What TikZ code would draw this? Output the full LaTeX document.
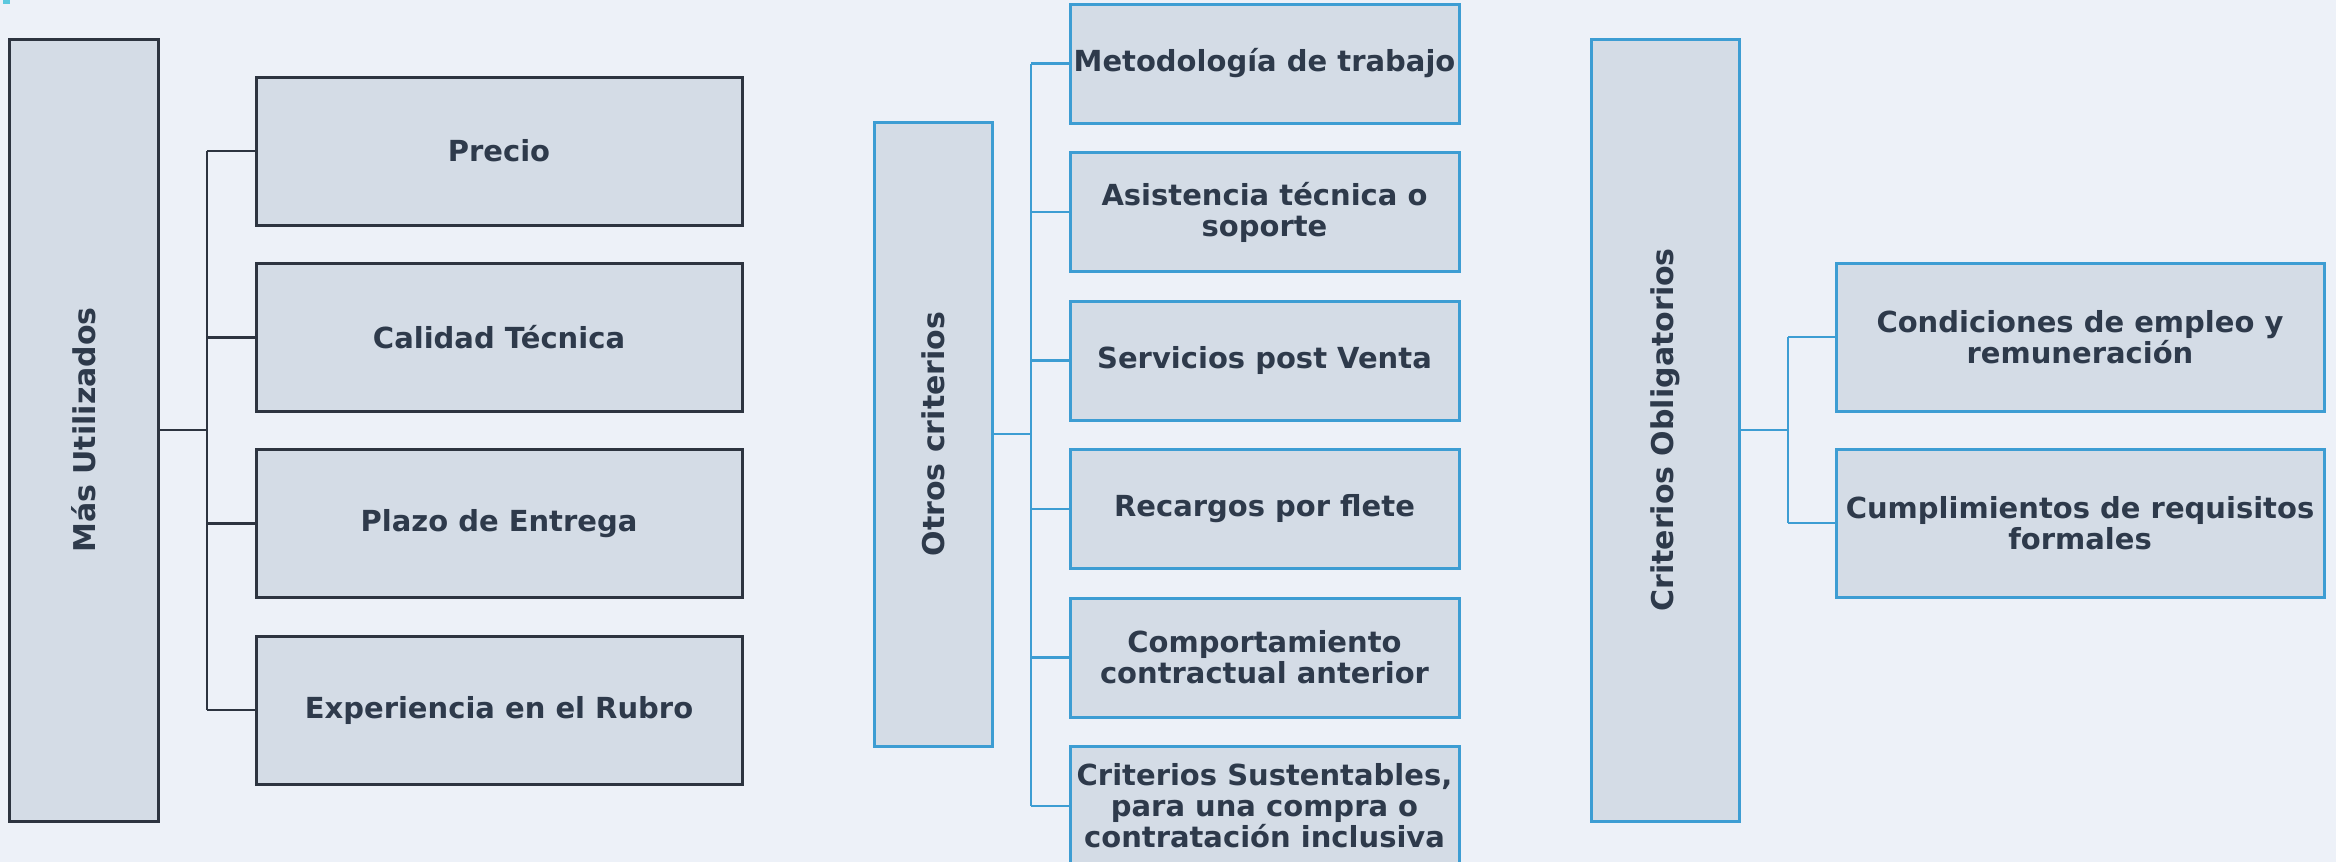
\documentclass[tikz,border=0pt]{standalone}
\usepackage{fontspec}
\setmainfont{DejaVu Sans}
\definecolor{bgc}{HTML}{EDF1F8}
\definecolor{boxfill}{HTML}{D4DCE6}
\definecolor{darkline}{HTML}{2D3440}
\definecolor{blueline}{HTML}{3D9DD3}
\definecolor{txt}{HTML}{2E3A4B}
\definecolor{cornermark}{HTML}{5BC8DE}
\begin{document}
\begin{tikzpicture}[x=0.5pt,y=-0.5pt,
  basebox/.style={rectangle, fill=boxfill, line width=1.5pt, inner sep=0pt, align=center,
    text=txt, font=\fontsize{14.5pt}{15.5pt}\selectfont\bfseries},
  darkbox/.style={basebox, draw=darkline},
  bluebox/.style={basebox, draw=blueline},
  vlabel/.style={rotate=90, font=\fontsize{15pt}{16pt}\selectfont\bfseries},
  darkconn/.style={draw=darkline, line width=1.3pt},
  blueconn/.style={draw=blueline, line width=1.3pt}]
\fill[bgc] (0,0) rectangle (2336,862);
\useasboundingbox (0,0) rectangle (2336,862);
\clip (0,0) rectangle (2336,862);
\fill[cornermark] (3,0) rectangle (10,4);

% Left panel
\node[darkbox, minimum width=74.5pt, minimum height=391pt] (L) at (83.5,430) {};
\node[vlabel, text=txt] (Lt) at (L.center) {Más Utilizados};
\node[darkbox, minimum width=243pt, minimum height=74pt] (L1) at (499,151) {Precio};
\node[darkbox, minimum width=243pt, minimum height=74pt] (L2) at (499,337.5) {Calidad Técnica};
\node[darkbox, minimum width=243pt, minimum height=74pt] (L3) at (499,523.5) {Plazo de Entrega};
\node[darkbox, minimum width=243pt, minimum height=74pt] (L4) at (499,710) {Experiencia en el Rubro};
\coordinate (lb) at (207,430);
\draw[darkconn] (L.east) -- (lb);
\draw[darkconn] (lb |- L1.west) -- (lb |- L4.west);
\foreach \n in {L1,L2,L3,L4} \draw[darkconn] (lb |- \n.west) -- (\n.west);

% Middle panel
\node[bluebox, minimum width=59pt, minimum height=312pt] (M) at (933,434) {};
\node[vlabel, text=txt] (Mt) at (M.center) {Otros criterios};
\node[bluebox, minimum width=194.5pt, minimum height=59.5pt] (M1) at (1264.5,63.5) {Metodología de trabajo};
\node[bluebox, minimum width=194.5pt, minimum height=59.5pt] (M2) at (1264.5,212) {Asistencia técnica o\\soporte};
\node[bluebox, minimum width=194.5pt, minimum height=59.5pt] (M3) at (1264.5,360.5) {Servicios post Venta};
\node[bluebox, minimum width=194.5pt, minimum height=59.5pt] (M4) at (1264.5,509) {Recargos por flete};
\node[bluebox, minimum width=194.5pt, minimum height=59.5pt] (M5) at (1264.5,657.5) {Comportamiento\\contractual anterior};
\node[bluebox, minimum width=194.5pt, minimum height=59.5pt] (M6) at (1264.5,806) {Criterios Sustentables,\\para una compra o\\contratación inclusiva};
\coordinate (mb) at (1031,434);
\draw[blueconn] (M.east) -- (mb);
\draw[blueconn] (mb |- M1.west) -- (mb |- M6.west);
\foreach \n in {M1,M2,M3,M4,M5,M6} \draw[blueconn] (mb |- \n.west) -- (\n.west);

% Right panel
\node[bluebox, minimum width=74pt, minimum height=391pt] (R) at (1665,430) {};
\node[vlabel, text=txt] (Rt) at (R.center) {Criterios Obligatorios};
\node[bluebox, minimum width=244pt, minimum height=74pt] (R1) at (2080,337) {Condiciones de empleo y\\remuneración};
\node[bluebox, minimum width=244pt, minimum height=74pt] (R2) at (2080,523) {Cumplimientos de requisitos\\formales};
\coordinate (rb) at (1788,430);
\draw[blueconn] (R.east) -- (rb);
\draw[blueconn] (rb |- R1.west) -- (rb |- R2.west);
\foreach \n in {R1,R2} \draw[blueconn] (rb |- \n.west) -- (\n.west);
\end{tikzpicture}
\end{document}
